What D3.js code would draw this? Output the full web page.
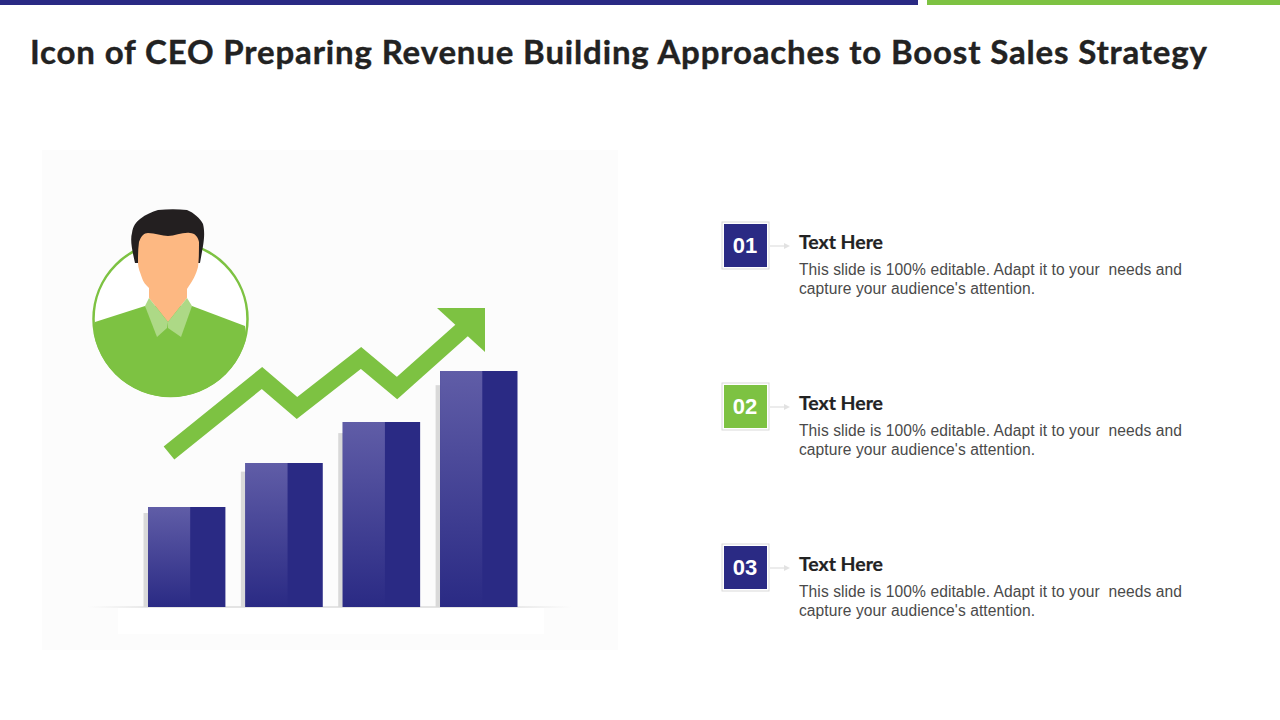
<!DOCTYPE html>
<html>
<head>
<meta charset="utf-8">
<script src="https://cdn.jsdelivr.net/npm/d3@7"></script>
<style>
  html, body { margin: 0; padding: 0; background: #fff; }
  svg { display: block; }
</style>
</head>
<body>
<div id="area"></div>
<script>
const chart_title = 'Icon of CEO Preparing Revenue Building Approaches to Boost Sales Strategy'

// bars (height above the floor line)
const bar_names = ['A', 'B', 'C', 'D']
const bar_values = [100, 144, 185, 236]

// zigzag arrow, same vertical units as the bars
const trend_x = [21, 114, 149, 213, 249, 322]
const trend_y = [154, 229, 199, 249, 219, 284]

const item_numbers = ['01', '02', '03']
const item_headings = ['Text Here', 'Text Here', 'Text Here']
const item_line_one = ["This slide is 100% editable. Adapt it to your  needs and", "This slide is 100% editable. Adapt it to your  needs and", "This slide is 100% editable. Adapt it to your  needs and"]
const item_line_two = ["capture your audience's attention.", "capture your audience's attention.", "capture your audience's attention."]

const navy = '#2a2a84'
const green = '#7dc242'
const width = 1280
const height = 720

const svg = d3.select('#area').append('svg').attr('width', width).attr('height', height)

const defs = svg.append('defs')
const grad = defs.append('linearGradient').attr('id', 'barFade').attr('x1', 0).attr('y1', 0).attr('x2', 0).attr('y2', 1)
grad.append('stop').attr('offset', '0%').attr('stop-color', '#605da7')
grad.append('stop').attr('offset', '100%').attr('stop-color', navy)

// top strips
svg.append('rect').attr('x', 0).attr('y', 0).attr('width', 918).attr('height', 5).attr('fill', navy)
svg.append('rect').attr('x', 927).attr('y', 0).attr('width', 353).attr('height', 5).attr('fill', green)

svg.append('text')
  .attr('x', 30).attr('y', 63.5)
  .attr('font-family', 'Lato').attr('font-weight', 700).attr('font-size', 33)
  .attr('fill', '#222222').attr('stroke', '#222222').attr('stroke-width', 0.4)
  .attr('textLength', 1177).attr('lengthAdjust', 'spacing')
  .text(chart_title)

// illustration panel
svg.append('rect').attr('x', 42).attr('y', 150).attr('width', 576).attr('height', 500).attr('fill', '#fcfcfc')

const floor_y = 607
const x = d3.scaleBand().domain(bar_names).range([148, 517.5]).paddingInner(0.205)
const y = d3.scaleLinear().domain([0, 236]).range([floor_y, 371])
const trendScaleX = d3.scaleLinear().domain([0, 369]).range([148, 517])

// floor
const floorGrad = defs.append('linearGradient').attr('id', 'floorFade')
floorGrad.append('stop').attr('offset', '0%').attr('stop-color', '#e4e4e4').attr('stop-opacity', 0)
floorGrad.append('stop').attr('offset', '15%').attr('stop-color', '#e4e4e4')
floorGrad.append('stop').attr('offset', '85%').attr('stop-color', '#e4e4e4')
floorGrad.append('stop').attr('offset', '100%').attr('stop-color', '#e4e4e4').attr('stop-opacity', 0)
svg.append('rect').attr('x', 88).attr('y', floor_y - 1).attr('width', 484).attr('height', 2).attr('fill', 'url(#floorFade)')
svg.append('rect').attr('x', 118).attr('y', floor_y + 1).attr('width', 426).attr('height', 26).attr('fill', '#ffffff')

// bars: grey shadow, dark body, light half on top
const bars = svg.selectAll('g.bar').data(bar_values).join('g').attr('class', 'bar')
  .attr('transform', (d, i) => 'translate(' + x(bar_names[i]) + ',0)')
bars.append('rect')
  .attr('x', -4.5).attr('y', d => y(d) + (floor_y - y(d)) * 0.06)
  .attr('width', 20).attr('height', d => (floor_y - y(d)) * 0.94)
  .attr('fill', '#d9d9d9')
bars.append('rect')
  .attr('y', d => y(d))
  .attr('width', x.bandwidth()).attr('height', d => floor_y - y(d))
  .attr('fill', navy)
bars.append('rect')
  .attr('y', d => y(d))
  .attr('width', x.bandwidth() * 0.545).attr('height', d => floor_y - y(d))
  .attr('fill', 'url(#barFade)')

// zigzag arrow
const trend = trend_x.map((d, i) => [trendScaleX(d), y(trend_y[i])])
svg.append('path')
  .attr('d', d3.line()(trend))
  .attr('fill', 'none').attr('stroke', green).attr('stroke-width', 17).attr('stroke-linejoin', 'miter')
svg.append('path')
  .attr('d', 'M437,308 L485,308 L485,352 Z')
  .attr('fill', green)

// person icon, shirt is cut by the circle
defs.append('clipPath').attr('id', 'shirtClip')
  .append('circle').attr('cx', 170.5).attr('cy', 319).attr('r', 78)
const person = svg.append('g')
person.append('circle').attr('cx', 170.5).attr('cy', 319).attr('r', 77).attr('fill', '#ffffff').attr('stroke', green).attr('stroke-width', 2.5)
person.append('path')
  .attr('d', 'M95,322 L145,306 L192,306 L245,326 L255,405 L85,405 Z')
  .attr('fill', green)
  .attr('clip-path', 'url(#shirtClip)')
person.append('path')
  .attr('d', 'M135,263 C132,250 130,240 132,233 C133,226 136,222 140,219 C146,214 152,212 158,210 C168,209 178,209 187,210 C194,213 200,218 203,224 C205,232 204,240 203,246 L200,263 Z')
  .attr('fill', '#231f20')
person.append('path')
  .attr('d', 'M139,242 C141,236 144,233 148,233 C155,233 162,236 168,236 C175,236 183,232 190,233 C195,233 198,237 199,242 C199,250 199,260 198,267 C196,275 193,280 187,289 L187,298 L168,322 L149,298 L149,288 C146,285 143,282 142,278 C140,272 138,268 138,263 C138,256 138,249 139,242 Z')
  .attr('fill', '#fdb882')
person.append('path')
  .attr('d', 'M145,306 L149,298 L168,322 L167,328 L157,337 Z')
  .attr('fill', '#add986')
person.append('path')
  .attr('d', 'M187,298 L192,306 L181,337 L168,328 L168,322 Z')
  .attr('fill', '#add986')

// numbered items
const item_step = 161
const items = svg.selectAll('g.item').data(item_numbers).join('g').attr('class', 'item')
  .attr('transform', (d, i) => 'translate(0,' + (i * item_step) + ')')
items.append('rect').attr('x', 722).attr('y', 222).attr('width', 47).attr('height', 47)
  .attr('fill', '#ffffff').attr('stroke', '#d9d9d9').attr('stroke-width', 1)
items.append('rect').attr('x', 724).attr('y', 224).attr('width', 43).attr('height', 43)
  .attr('fill', (d, i) => i == 1 ? green : navy)
items.append('text').attr('x', 745).attr('y', 253)
  .attr('text-anchor', 'middle')
  .attr('font-family', 'Liberation Sans').attr('font-weight', 700).attr('font-size', 22)
  .attr('fill', '#ffffff')
  .text(d => d)
items.append('line').attr('x1', 770).attr('y1', 246).attr('x2', 785).attr('y2', 246)
  .attr('stroke', '#d9d9d9').attr('stroke-width', 1)
items.append('path').attr('d', 'M784,243 L790,246 L784,249 Z').attr('fill', '#e2e2e2')
items.append('text').attr('x', 799).attr('y', 248.6)
  .attr('font-family', 'Lato').attr('font-weight', 700).attr('font-size', 19.5)
  .attr('fill', '#222222').attr('stroke', '#222222').attr('stroke-width', 0.2)
  .attr('textLength', 84).attr('lengthAdjust', 'spacing')
  .text((d, i) => item_headings[i])
items.append('text').attr('x', 799).attr('y', 275)
  .attr('font-family', 'Liberation Sans').attr('font-size', 15.6)
  .attr('fill', '#4a4a4a').attr('xml:space', 'preserve').style('white-space', 'pre')
  .attr('textLength', 383).attr('lengthAdjust', 'spacing')
  .text((d, i) => item_line_one[i])
items.append('text').attr('x', 799).attr('y', 294)
  .attr('font-family', 'Liberation Sans').attr('font-size', 15.6)
  .attr('fill', '#4a4a4a')
  .attr('textLength', 236).attr('lengthAdjust', 'spacing')
  .text((d, i) => item_line_two[i])
</script>
</body>
</html>
